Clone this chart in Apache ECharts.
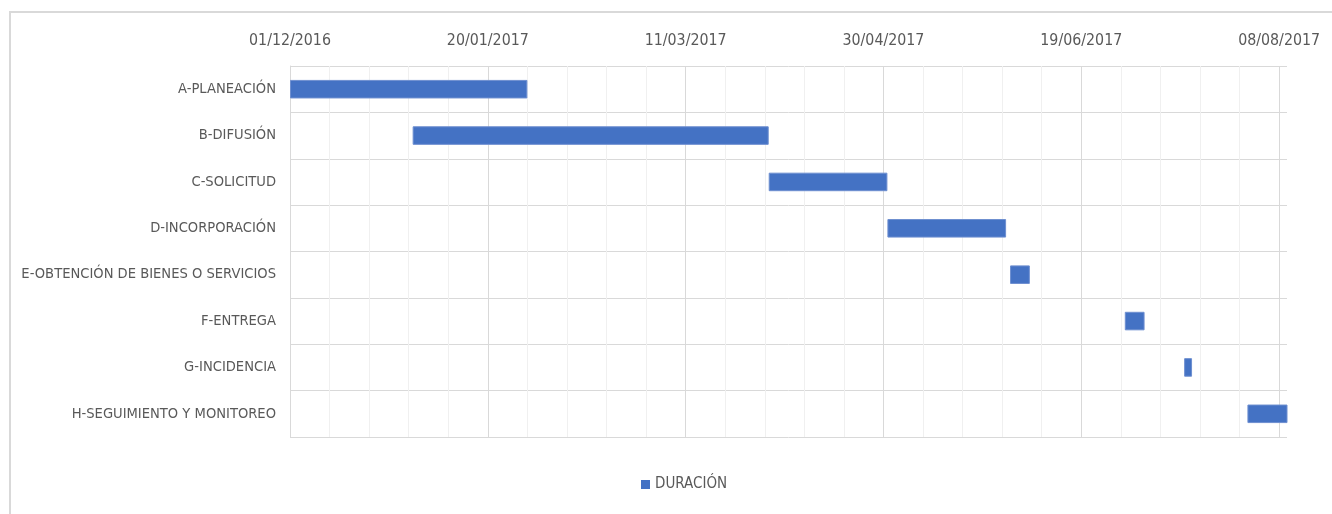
<!DOCTYPE html>
<html>
<head>
<meta charset="utf-8">
<script src="https://cdn.jsdelivr.net/npm/echarts@6/dist/echarts.min.js"></script>
<style>
html,body{margin:0;padding:0;background:#fff;}
#frame{position:absolute;left:9px;top:11px;width:1340px;height:520px;border:2px solid #d9d9d9;box-sizing:border-box;}
#chart{position:absolute;left:0;top:0;width:1332px;height:514px;}
</style>
</head>
<body>
<div id="frame"></div>
<div id="chart"></div>
<script>
// ---- data ----
const categories = ['A-PLANEACIÓN','B-DIFUSIÓN','C-SOLICITUD','D-INCORPORACIÓN','E-OBTENCIÓN DE BIENES O SERVICIOS','F-ENTREGA','G-INCIDENCIA','H-SEGUIMIENTO Y MONITOREO'];
const startDates = ['2016-12-01','2017-01-01','2017-04-01','2017-05-01','2017-06-01','2017-06-30','2017-07-15','2017-07-31'];
const durations = [60, 90, 30, 30, 5, 5, 2, 11];
const axisMaxDays = 252;
const tickDays = 50;

const DAY = 86400000;
const t0 = Date.UTC(2016, 11, 1);
function dayOffset(s){ const p = s.split('-'); return Math.round((Date.UTC(+p[0], +p[1]-1, +p[2]) - t0)/DAY); }
function fmt(v){
  const d = new Date(t0 + v*DAY);
  const dd = String(d.getUTCDate()).padStart(2,'0');
  const mm = String(d.getUTCMonth()+1).padStart(2,'0');
  return dd + '/' + mm + '/' + d.getUTCFullYear();
}
const offsets = startDates.map(dayOffset);

const FONT = "'DejaVu Sans Condensed', 'Liberation Sans Narrow', sans-serif";
const chart = echarts.init(document.getElementById('chart'), null, {renderer:'canvas'});
chart.setOption({
  animation:false,
  backgroundColor:'transparent',
  grid:{left:290, right:45, top:66, bottom:77, containLabel:false, outerBoundsMode:'none'},
  legend:{
    data:['DURACIÓN'], left:636, top:472, itemWidth:9, itemHeight:9, itemGap:10,
    icon:'rect', itemStyle:{borderWidth:0},
    textStyle:{color:'#595959', fontSize:15, fontFamily:FONT}
  },
  xAxis:{
    type:'value', position:'top', min:0, max:axisMaxDays, interval:10,
    axisLine:{show:false}, axisTick:{show:false},
    axisLabel:{
      color:'#595959', fontSize:15.8, fontFamily:FONT, margin:17, showMaxLabel:false,
      formatter:function(v){ return (Math.round(v) % tickDays === 0) ? fmt(v) : ''; }
    },
    splitLine:{show:true, showMaxLine:false, lineStyle:{color:['#d9d9d9','#f0f0f0','#f0f0f0','#f0f0f0','#f0f0f0'], width:1}}
  },
  yAxis:{
    type:'category', data:categories, inverse:true,
    axisLine:{show:true, lineStyle:{color:'#d9d9d9'}}, axisTick:{show:false},
    axisLabel:{color:'#595959', fontSize:14.6, fontFamily:FONT, margin:14},
    splitLine:{show:true, lineStyle:{color:'#d9d9d9', width:1}}
  },
  series:[
    {name:'INICIO', type:'bar', stack:'g', data:offsets, itemStyle:{color:'transparent'}, barWidth:'40%', silent:true},
    {name:'DURACIÓN', type:'bar', stack:'g', data:durations, barWidth:'40%',
     itemStyle:{color:'#4472C4', borderColor:'#6e8fd0', borderWidth:1}}
  ]
});
</script>
</body>
</html>
